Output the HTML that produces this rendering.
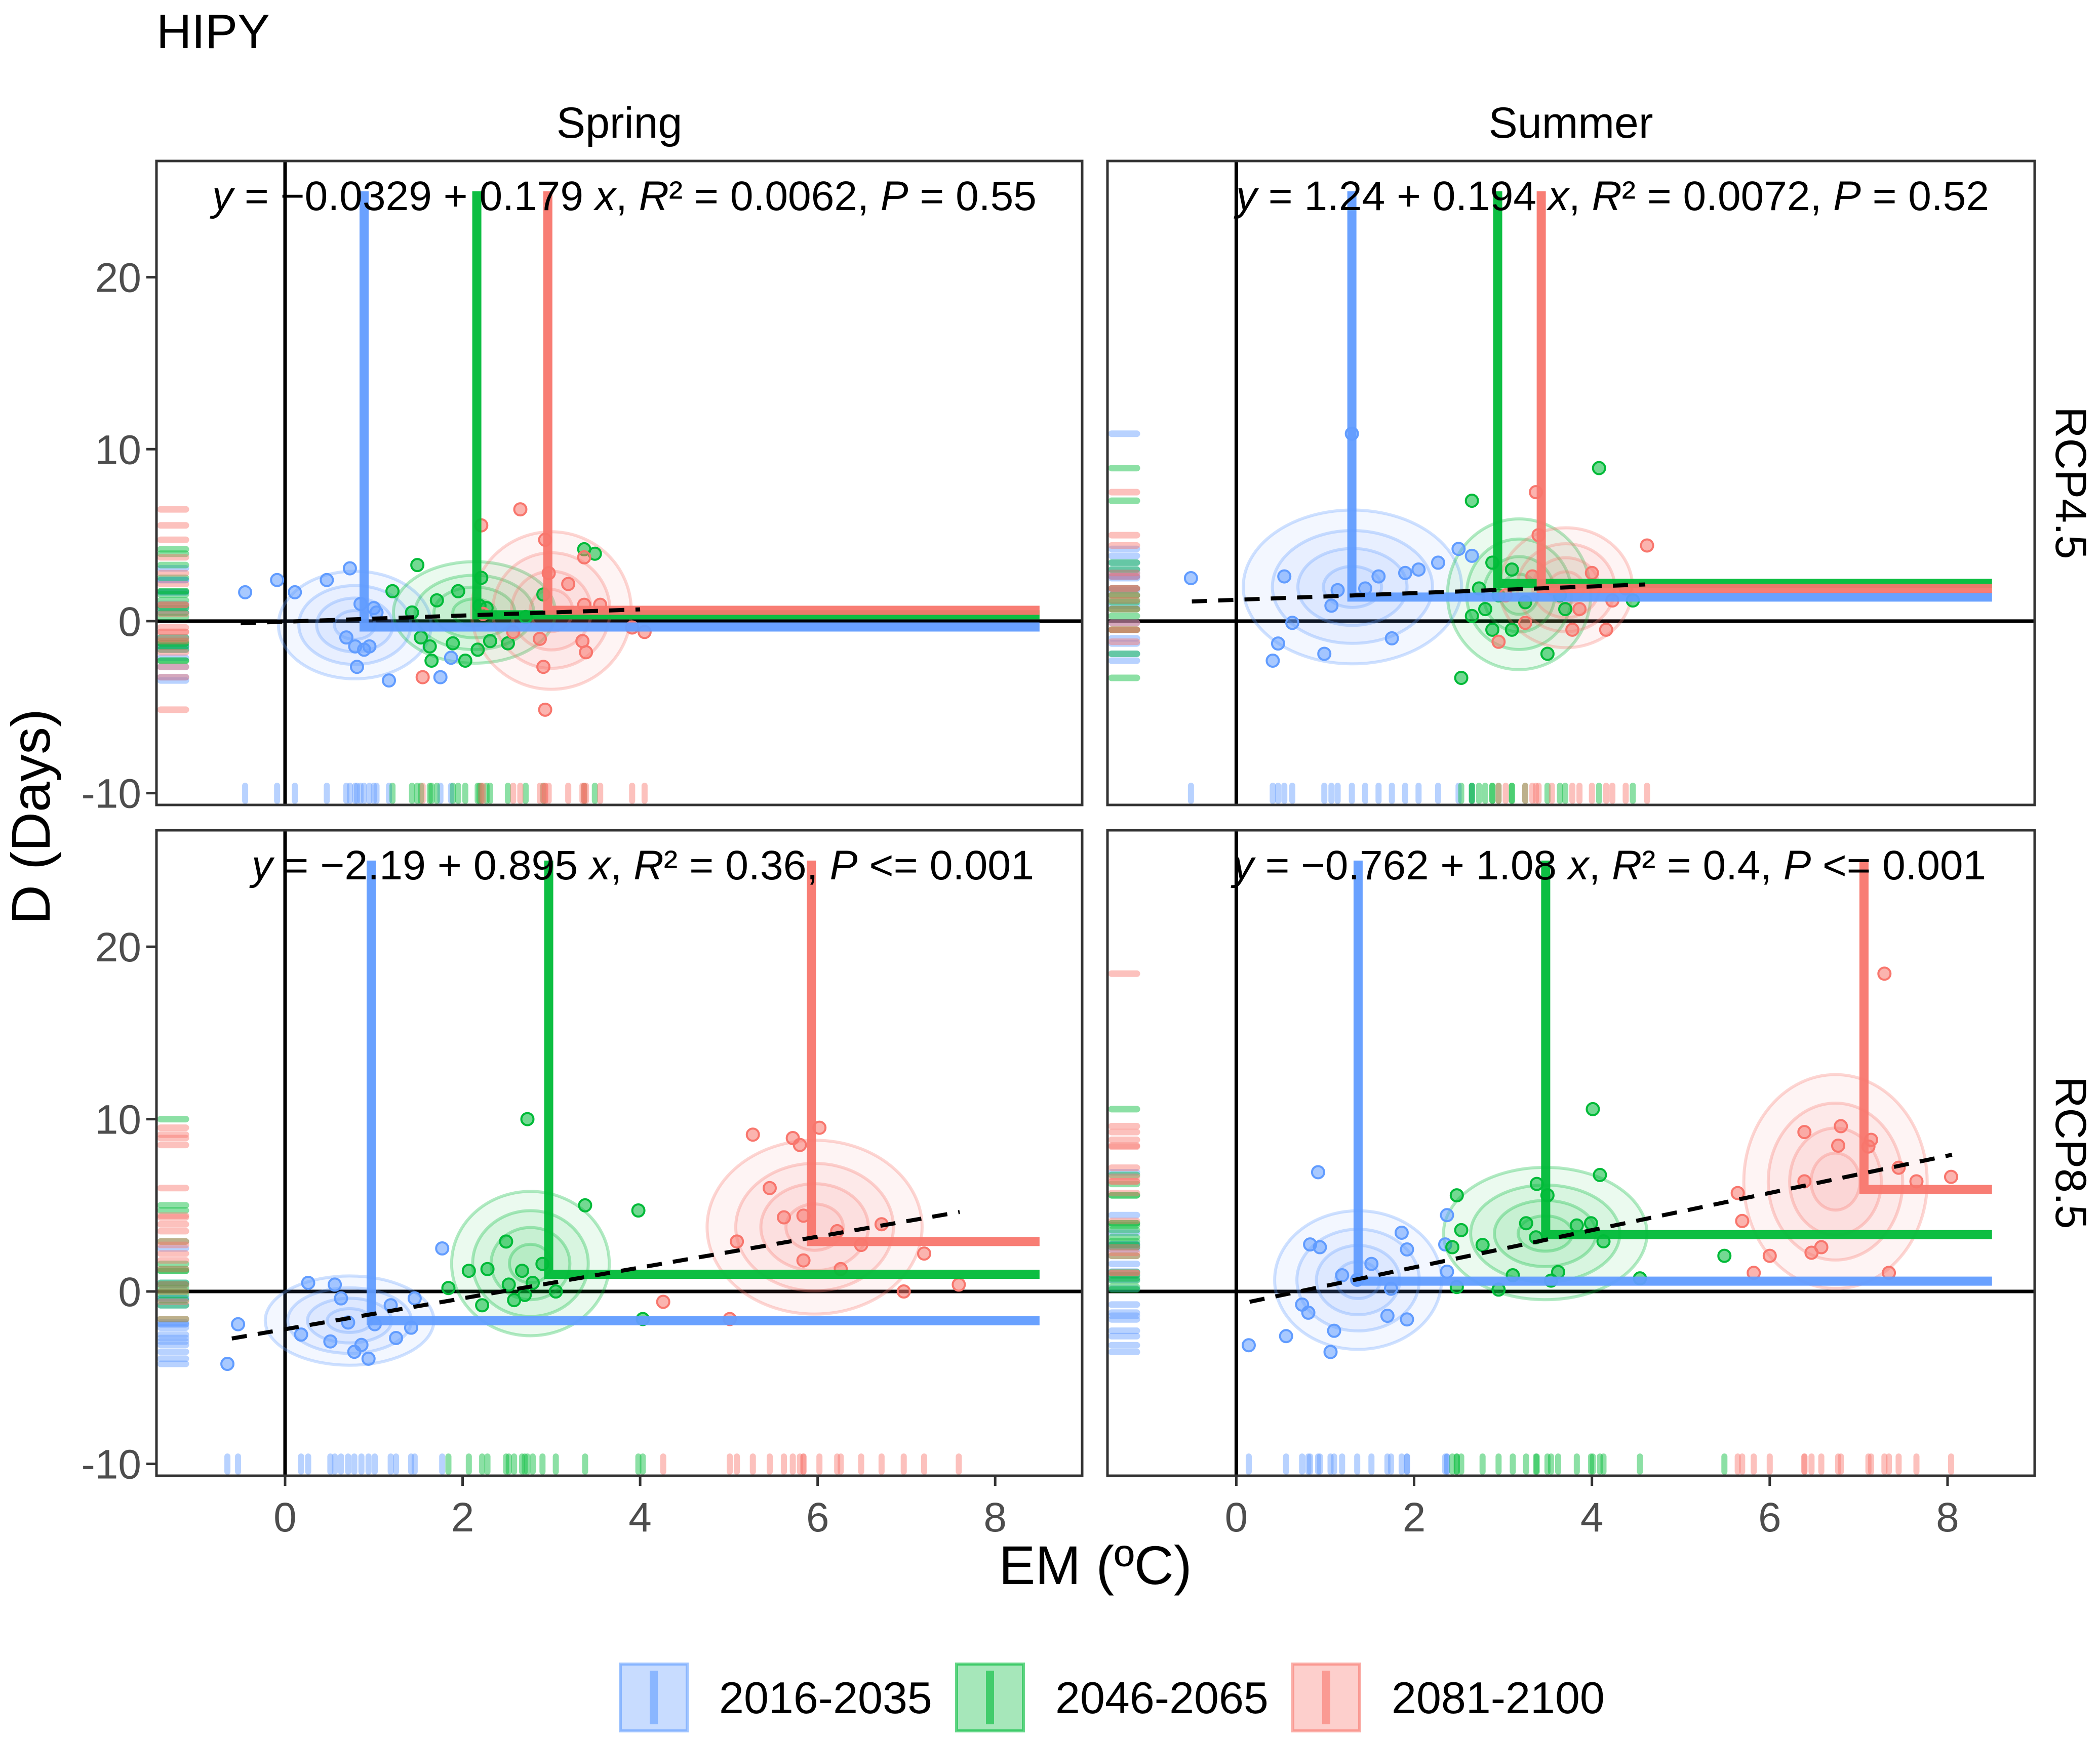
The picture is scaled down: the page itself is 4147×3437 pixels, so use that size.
<!DOCTYPE html>
<html><head><meta charset="utf-8"><style>
html,body{margin:0;padding:0;background:#fff}
svg{display:block;font-family:"Liberation Sans",sans-serif}
</style></head><body>
<svg id="chart" width="4147" height="3437" viewBox="0 0 4147 3437" xmlns="http://www.w3.org/2000/svg">
<defs>
<clipPath id="c0"><rect x="309" y="318" width="1828" height="1272"/></clipPath>
<clipPath id="c1"><rect x="2187" y="318" width="1831" height="1272"/></clipPath>
<clipPath id="c2"><rect x="309" y="1640" width="1828" height="1275"/></clipPath>
<clipPath id="c3"><rect x="2187" y="1640" width="1831" height="1275"/></clipPath>
</defs>
<text x="309" y="95" font-size="96">HIPY</text>
<text x="1223" y="272" font-size="86" text-anchor="middle">Spring</text>
<text x="3102" y="272" font-size="86" text-anchor="middle">Summer</text>
<text x="4060" y="954" font-size="86" text-anchor="middle" transform="rotate(90 4060 954)">RCP4.5</text>
<text x="4060" y="2277" font-size="86" text-anchor="middle" transform="rotate(90 4060 2277)">RCP8.5</text>
<text x="2163" y="3129" font-size="108" text-anchor="middle">EM (ºC)</text>
<text x="98" y="1613" font-size="108" text-anchor="middle" transform="rotate(-90 98 1613)">D (Days)</text>
<g id="panels"></g>
<g id="legend"></g>
</svg>
<script>
const groups = ["2016-2035","2046-2065","2081-2100"];
const colors = ["#619CFF","#00BA38","#F8766D"];
const xTicks = [0,2,4,6,8];
const yTicks = [-10,0,10,20];
const eqTexts = [
 "y = \u22120.0329 + 0.179 x, R² = 0.0062, P = 0.55",
 "y = 1.24 + 0.194 x, R² = 0.0072, P = 0.52",
 "y = \u22122.19 + 0.895 x, R² = 0.36, P <= 0.001",
 "y = \u22120.762 + 1.08 x, R² = 0.4, P <= 0.001"];
const intercepts = [-0.0329, 1.24, -2.19, -0.762];
const slopes = [0.179, 0.194, 0.895, 1.08];
const fitRangeX = [[-0.5,4.0],[-0.5,4.6],[-0.6,7.6],[0.15,8.05]];
const meansTL = [[0.89,-0.34],[2.16,0.37],[2.96,0.63]];
const meansTR = [[1.3,1.4],[2.94,2.2],[3.43,1.9]];
const meansBL = [[0.97,-1.7],[2.97,1.0],[5.93,2.9]];
const meansBR = [[1.37,0.6],[3.48,3.3],[7.06,5.92]];
const tlBlue = [[-0.45,1.68],[-0.09,2.39],[0.11,1.68],[0.47,2.39],[0.73,3.07],[0.85,1.0],[1.0,0.76],[1.03,0.5],[0.69,-0.95],[0.79,-1.47],[0.89,-1.66],[0.95,-1.47],[0.81,-2.66],[1.17,-3.45],[1.75,-3.26],[1.87,-2.13]];
const tlGreen = [[1.49,3.26],[1.21,1.74],[1.71,1.21],[1.95,1.74],[1.43,0.5],[1.53,-0.95],[1.63,-1.47],[1.65,-2.3],[1.89,-1.29],[2.03,-2.3],[2.17,-1.66],[2.31,-1.16],[2.51,-1.29],[2.21,2.52],[2.19,0.89],[2.27,0.76],[2.91,1.55],[3.37,4.18],[3.49,3.92],[2.71,0.24]];
const tlRed = [[2.65,6.5],[2.21,5.57],[2.93,4.73],[3.37,3.71],[3.19,2.16],[2.97,2.79],[3.37,0.95],[3.55,0.95],[2.23,0.42],[2.57,-0.63],[2.87,-1.03],[3.35,-1.16],[3.39,-1.81],[2.91,-2.66],[2.93,-5.15],[1.55,-3.26],[3.91,-0.37],[4.05,-0.63]];
const trBlue = [[-0.51,2.5],[0.41,-2.3],[0.47,-1.3],[0.63,-0.1],[0.99,-1.9],[1.07,0.9],[1.14,1.8],[1.3,10.9],[1.75,-1.0],[1.6,2.6],[1.9,2.8],[2.05,3.0],[2.27,3.4],[2.5,4.2],[2.65,3.8],[0.54,2.6],[1.45,1.9]];
const trGreen = [[2.53,-3.3],[2.65,7.0],[2.73,1.9],[2.8,0.7],[2.88,-0.5],[2.95,1.5],[3.1,3.0],[3.25,1.1],[3.5,-1.9],[3.64,1.5],[4.08,8.9],[2.65,0.3],[3.1,-0.5],[3.7,0.7],[4.46,1.2],[2.88,3.4]];
const trRed = [[3.37,7.5],[3.4,5.0],[4.62,4.4],[4.23,1.2],[3.86,0.7],[3.55,1.9],[3.78,-0.5],[3.25,-0.1],[3.03,1.5],[3.33,2.6],[4.0,2.8],[4.38,1.9],[2.95,-1.2],[4.16,-0.5]];
const blBlue = [[-0.65,-4.2],[-0.53,-1.9],[0.26,0.5],[0.18,-2.5],[0.51,-2.9],[0.71,-1.8],[0.78,-3.5],[0.86,-3.1],[0.94,-3.9],[1.01,-1.9],[1.19,-0.8],[1.25,-2.7],[1.46,-0.4],[1.77,2.5],[1.42,-2.1],[0.63,-0.4],[0.56,0.4]];
const blGreen = [[1.84,0.2],[2.07,1.2],[2.28,1.3],[2.49,2.9],[2.52,0.4],[2.58,-0.5],[2.7,-0.2],[2.73,10.0],[2.79,0.5],[2.9,1.6],[3.05,0],[3.38,5.0],[3.98,4.7],[4.03,-1.6],[2.22,-0.8],[2.67,1.2]];
const blRed = [[4.26,-0.6],[5.09,2.9],[5.27,9.1],[5.46,6.0],[5.72,8.9],[5.8,8.5],[5.84,1.8],[6.02,9.5],[6.22,3.5],[6.26,1.3],[6.49,2.7],[6.72,3.9],[6.97,0],[7.2,2.2],[7.59,0.4],[5.01,-1.6],[5.62,4.3],[5.84,4.4]];
const brBlue = [[0.14,-3.12],[0.56,-2.59],[0.74,-0.76],[0.81,-1.23],[0.83,2.73],[0.94,2.57],[0.92,6.92],[1.06,-3.51],[1.1,-2.28],[1.19,0.94],[1.52,1.6],[1.7,-1.41],[1.74,0.16],[1.86,3.41],[1.92,2.44],[1.92,-1.62],[2.37,4.43],[2.35,2.73],[2.37,1.15],[1.36,0.68]];
const brGreen = [[2.48,5.58],[2.53,3.56],[2.43,2.57],[2.48,0.26],[2.77,2.7],[2.95,0.11],[3.11,0.94],[3.26,3.96],[3.38,6.24],[3.37,3.14],[3.5,5.58],[3.54,0.63],[3.62,1.13],[3.83,3.83],[3.99,3.96],[4.01,10.58],[4.09,6.76],[4.13,2.91],[4.54,0.76],[5.49,2.07]];
const brRed = [[5.64,5.71],[5.69,4.09],[5.82,1.08],[6.0,2.07],[6.39,9.25],[6.39,6.39],[6.47,2.25],[6.58,2.57],[6.77,8.46],[6.8,9.59],[7.14,8.8],[7.29,18.44],[7.34,1.08],[7.45,7.18],[7.65,6.39],[8.04,6.65],[7.11,8.41]];

const panelPoints = [[tlBlue,tlGreen,tlRed],[trBlue,trGreen,trRed],[blBlue,blGreen,blRed],[brBlue,brGreen,brRed]];
const panelMeans = [meansTL,meansTR,meansBL,meansBR];
const panelNames = ["spring-rcp45","summer-rcp45","spring-rcp85","summer-rcp85"];

const NS="http://www.w3.org/2000/svg";
const X_DOM=[-1.449,8.98], Y_DOM=[-10.69,26.76];
const boxes=[[309,2137,318,1590],[2187,4018,318,1590],[309,2137,1640,2915],[2187,4018,1640,2915]];
function mk(tag,attrs,parent){const e=document.createElementNS(NS,tag);for(const k in attrs)e.setAttribute(k,attrs[k]);parent.appendChild(e);return e;}
const root=document.getElementById('panels');

boxes.forEach((b,pi)=>{
  const [x0,x1,y0,y1]=b;
  const sx=v=>x0+(v-X_DOM[0])/(X_DOM[1]-X_DOM[0])*(x1-x0);
  const sy=v=>y1-(v-Y_DOM[0])/(Y_DOM[1]-Y_DOM[0])*(y1-y0);
  const g=mk('g',{},root);
  
  
  const cg=mk('g',{'clip-path':'url(#c'+pi+')'},g);
  const zx=mk('line',{x1:sx(0),x2:sx(0),y1:y0,y2:y1,stroke:'#000','stroke-width':7},cg);
  
  
  const zy=mk('line',{x1:x0,x2:x1,y1:sy(0),y2:sy(0),stroke:'#000','stroke-width':7},cg);
  
  
  const pts=panelPoints[pi];
  pts.forEach((arr,gi)=>{
    const n=arr.length;const mx=arr.reduce((s,p)=>s+p[0],0)/n;const my=arr.reduce((s,p)=>s+p[1],0)/n;
    const sdx=Math.sqrt(arr.reduce((s,p)=>s+(p[0]-mx)**2,0)/n);const sdy=Math.sqrt(arr.reduce((s,p)=>s+(p[1]-my)**2,0)/n);
    [1.5,1.1,0.75,0.4].forEach(k=>{
      const e=mk('ellipse',{cx:sx(mx),cy:sy(my),rx:Math.abs(sx(mx+sdx*k)-sx(mx)),ry:Math.abs(sy(my+sdy*k)-sy(my)),fill:colors[gi],'fill-opacity':0.08,stroke:colors[gi],'stroke-opacity':0.3,'stroke-width':6},cg);
      
      
    });
  });
  pts.forEach((arr,gi)=>{
    arr.forEach(p=>{
      const rx=mk('line',{x1:sx(p[0]),x2:sx(p[0]),y1:y1-8,y2:y1-38,stroke:colors[gi],'stroke-opacity':0.45,'stroke-width':12,'stroke-linecap':'round'},cg);
      
      
      const ry=mk('line',{x1:x0+8,x2:x0+58,y1:sy(p[1]),y2:sy(p[1]),stroke:colors[gi],'stroke-opacity':0.45,'stroke-width':13,'stroke-linecap':'round'},cg);
      
      
    });
  });
  pts.forEach((arr,gi)=>{
    arr.forEach(p=>{
      const c=mk('circle',{cx:sx(p[0]),cy:sy(p[1]),r:12,fill:colors[gi],'fill-opacity':0.55,stroke:colors[gi],'stroke-width':4},cg);
      
      
    });
  });
  panelMeans[pi].forEach((m,gi)=>{
    const pl=mk('polyline',{points:`${sx(m[0])},${sy(25)} ${sx(m[0])},${sy(m[1])} ${sx(8.5)},${sy(m[1])}`,fill:'none',stroke:colors[gi],'stroke-width':18,'stroke-opacity':0.95},cg);
    
    
  });
  const fr=fitRangeX[pi];
  const fl=mk('line',{x1:sx(fr[0]),y1:sy(intercepts[pi]+slopes[pi]*fr[0]),x2:sx(fr[1]),y2:sy(intercepts[pi]+slopes[pi]*fr[1]),stroke:'#000','stroke-width':8,'stroke-dasharray':'30 22'},cg);
  
  
  const br=mk('rect',{x:x0,y:y0,width:x1-x0,height:y1-y0,fill:'none',stroke:'#333','stroke-width':5},g);
  
  
  const eqEnd=[2047,3928,2042,3922][pi];
  const eqW=[1628,1487,1545,1487][pi];
  const eq=mk('text',{x:eqEnd-eqW,y:y0+97,'font-size':82,textLength:eqW,lengthAdjust:'spacingAndGlyphs'},g);
  
  
  eqTexts[pi].split(/(\by\b|\bx\b|\bR\b|\bP\b)/).forEach(part=>{
    if(!part) return;
    const ts=mk('tspan',{},eq);
    if(/^[yxRP]$/.test(part)) ts.setAttribute('font-style','italic');
    ts.textContent=part;
  });
  if(pi%2===0){
    yTicks.forEach(t=>{
      const tl=mk('line',{x1:x0-20,x2:x0,y1:sy(t),y2:sy(t),stroke:'#333','stroke-width':5},g);
      
      
      const tt=mk('text',{x:x0-30,y:sy(t)+29,'font-size':82,'text-anchor':'end',fill:'#4d4d4d'},g);
      tt.textContent=t;
      
      
    });
  }
  if(pi>=2){
    xTicks.forEach(t=>{
      const tl=mk('line',{x1:sx(t),x2:sx(t),y1:y1,y2:y1+20,stroke:'#333','stroke-width':5},g);
      
      
      const tt=mk('text',{x:sx(t),y:y1+110,'font-size':82,'text-anchor':'middle',fill:'#4d4d4d'},g);
      tt.textContent=t;
      
      
    });
  }
});
const lg=document.getElementById('legend');
const lx=[1225,1889,2553];
groups.forEach((gname,gi)=>{
  const eg=mk('g',{},lg);
  
  
  mk('rect',{x:lx[gi],y:3287,width:132,height:132,fill:colors[gi],'fill-opacity':0.35,stroke:colors[gi],'stroke-opacity':0.6,'stroke-width':6},eg);
  mk('line',{x1:lx[gi]+66,x2:lx[gi]+66,y1:3300,y2:3406,stroke:colors[gi],'stroke-opacity':0.6,'stroke-width':16},eg);
  const t=mk('text',{x:lx[gi]+195,y:3384,'font-size':88},eg);
  t.textContent=gname;
});
</script>
</body></html>
